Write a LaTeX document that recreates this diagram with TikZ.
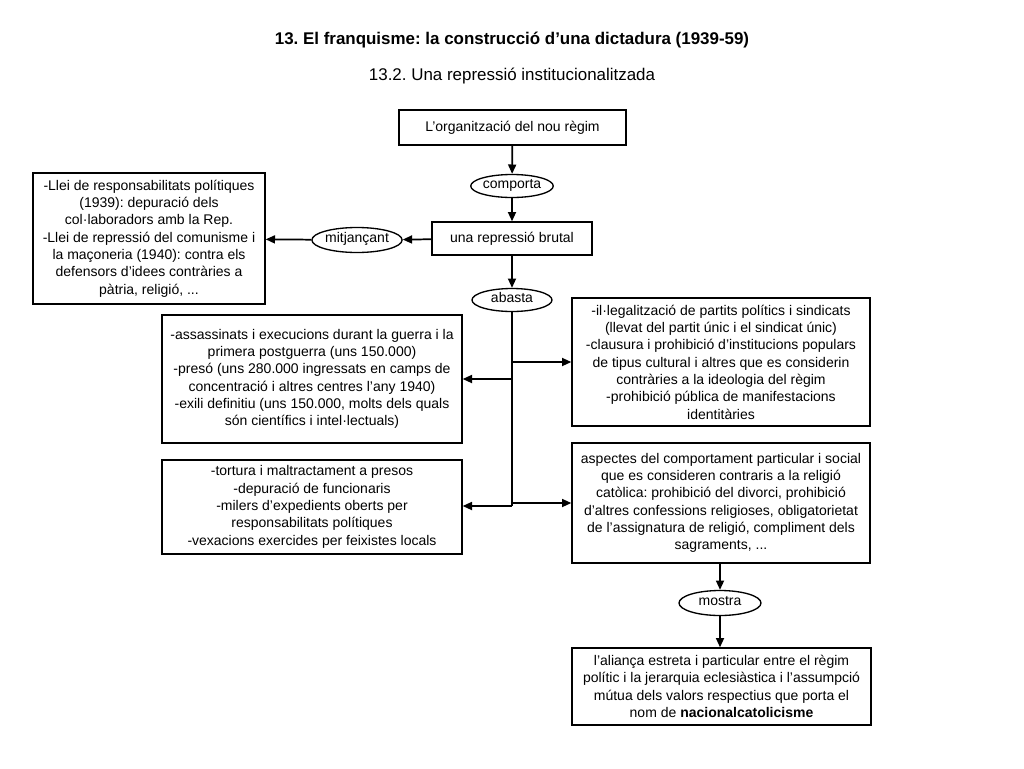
\documentclass[tikz,border=0pt]{standalone}
\usepackage{fontspec}
\setmainfont{Liberation Sans}
\usetikzlibrary{arrows.meta,shapes.geometric}
\frenchspacing

\begin{document}
\begin{tikzpicture}[x=0.75pt,y=-0.75pt,
    >={Triangle[length=7pt,width=6pt]},
    every path/.style={line width=1.3pt},
    box/.style={draw,line width=1pt,align=center,inner sep=0pt,font=\fontsize{10.5}{13}\selectfont},
    verb/.style={draw,ellipse,line width=1pt,inner sep=0pt,text height=1.3ex,text depth=0.6ex,font=\fontsize{10.5}{13}\selectfont}]
      \useasboundingbox (0,0) rectangle (1024,768);
      \node (title) at (512,40) {\fontsize{12.7}{14}\selectfont\bfseries 13. El franquisme: la construcció d’una dictadura (1939-59)};
      \node (subtitle) at (512,76) {\fontsize{12.7}{14}\selectfont 13.2. Una repressió institucionalitzada};
      \node[box,minimum width=227*0.75pt,minimum height=35*0.75pt] (regim) at (512.5,127.5) {L’organització del nou règim};
      \node[verb,minimum width=80*0.75pt,minimum height=23*0.75pt] (comporta) at (512,186) {comporta};
      \node[box,minimum width=160*0.75pt,minimum height=33*0.75pt] (brutal) at (512,238.5) {una repressió brutal};
      \node[verb,minimum width=86*0.75pt,minimum height=25*0.75pt] (mitjancant) at (357,240) {mitjançant};
      \node[box,minimum width=232*0.75pt,minimum height=131*0.75pt] (lleis) at (149,238.5)
        {-Llei de responsabilitats polítiques\\(1939): depuració dels\\col·laboradors amb la Rep.\\-Llei de repressió del comunisme i\\la maçoneria (1940): contra els\\defensors d’idees contràries a\\pàtria, religió, ...};
      \node[verb,minimum width=80*0.75pt,minimum height=23*0.75pt] (abasta) at (512,300) {abasta};
      \node[box,minimum width=300*0.75pt,minimum height=128*0.75pt] (morts) at (312,379)
        {-assassinats i execucions durant la guerra i la\\primera postguerra (uns 150.000)\\-presó (uns 280.000 ingressats en camps de\\concentració i altres centres l’any 1940)\\-exili definitiu (uns 150.000, molts dels quals\\són científics i intel·lectuals)};
      \node[box,minimum width=300*0.75pt,minimum height=94*0.75pt] (tortura) at (312,507)
        {-tortura i maltractament a presos\\-depuració de funcionaris\\-milers d’expedients oberts per\\responsabilitats polítiques\\-vexacions exercides per feixistes locals};
      \node[box,minimum width=298*0.75pt,minimum height=128*0.75pt] (partits) at (721,362)
        {-il·legalització de partits polítics i sindicats\\(llevat del partit únic i el sindicat únic)\\-clausura i prohibició d’institucions populars\\de tipus cultural i altres que es considerin\\contràries a la ideologia del règim\\-prohibició pública de manifestacions\\identitàries};
      \node[box,minimum width=298*0.75pt,minimum height=120*0.75pt] (religio) at (721,503)
        {aspectes del comportament particular i social\\que es consideren contraris a la religió\\catòlica: prohibició del divorci, prohibició\\d’altres confessions religioses, obligatorietat\\de l’assignatura de religió, compliment dels\\sagraments, ...};
      \node[verb,minimum width=82*0.75pt,minimum height=25*0.75pt] (mostra) at (720,603) {mostra};
      \node[box,minimum width=299*0.75pt,minimum height=77*0.75pt] (aliança) at (721.5,686.5)
        {l’aliança estreta i particular entre el règim\\polític i la jerarquia eclesiàstica i l’assumpció\\mútua dels valors respectius que porta el\\nom de \textbf{nacionalcatolicisme}};
      \coordinate (trunk) at (512,506);
      \draw[->] (regim) -- (comporta);
      \draw[->] (comporta) -- (brutal);
      \draw[->] (brutal) -- (mitjancant);
      \draw[->] (mitjancant) -- (lleis);
      \draw[->] (brutal) -- (abasta);
      \draw (abasta) -- (trunk);
      \draw[->] (abasta |- morts.east) -- (morts.east);
      \draw[->] (trunk) -- (tortura.east |- trunk);
      \draw[->] (abasta |- partits.west) -- (partits.west);
      \draw[->] (abasta |- religio.west) -- (religio.west);
      \draw[->] (religio.south -| mostra) -- (mostra);
      \draw[->] (mostra) -- (aliança.north -| mostra);
    \end{tikzpicture}
\end{document}
